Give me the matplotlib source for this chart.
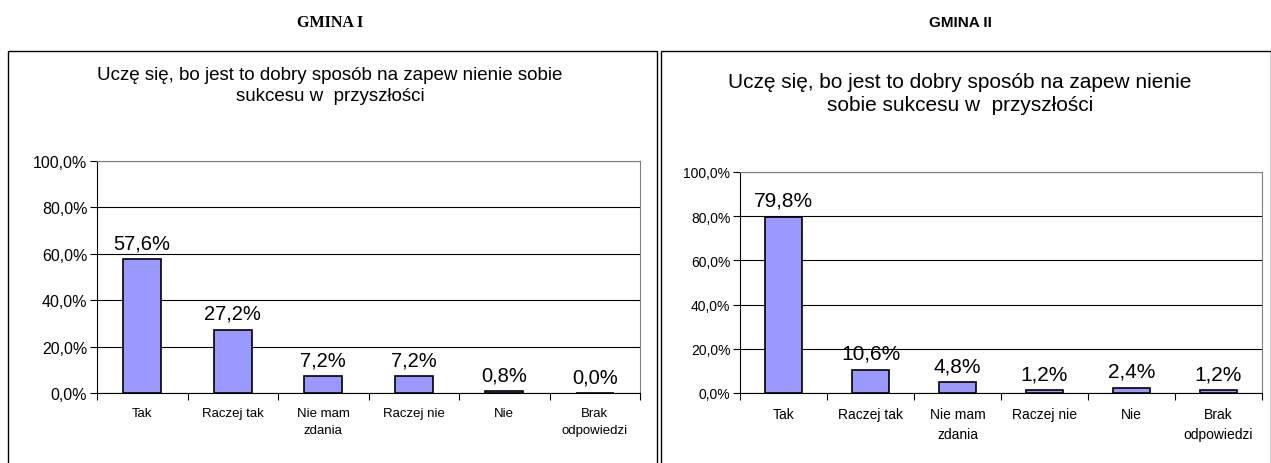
import matplotlib
matplotlib.use("Agg")
import matplotlib.pyplot as plt
from matplotlib.patches import Rectangle

categories = ["Tak", "Raczej tak", "Nie mam\nzdania", "Raczej nie", "Nie", "Brak\nodpowiedzi"]
gmina1 = [57.6, 27.2, 7.2, 7.2, 0.8, 0.0]
gmina2 = [79.8, 10.6, 4.8, 1.2, 2.4, 1.2]
yticks = [0, 20, 40, 60, 80, 100]
title = "Uczę się, bo jest to dobry sposób na zapew nienie sobie\nsukcesu w  przyszłości"
title2 = "Uczę się, bo jest to dobry sposób na zapew nienie\nsobie sukcesu w  przyszłości"

W, H = 1271, 464
plt.rcParams['font.family'] = ['Liberation Sans', 'DejaVu Sans']
fig = plt.figure(figsize=(W / 100, H / 100), dpi=100)


def px_axes(x0, y0, x1, y1):
    return fig.add_axes([x0 / W, 1 - y1 / H, (x1 - x0) / W, (y1 - y0) / H])


def box(x0, y0, x1, y1):
    fig.patches.append(Rectangle((x0 / W, 1 - y1 / H), (x1 - x0) / W, (y1 - y0) / H,
                                 transform=fig.transFigure, fill=False,
                                 edgecolor="black", linewidth=1.0))


def panel(ax, values, ysize, xsize, vsize):
    x = range(len(categories))
    ax.bar(x, values, width=0.42, color="#9999ff", edgecolor="black", linewidth=1.2, zorder=3)
    ax.set_xlim(-0.5, len(categories) - 0.5)
    ax.set_ylim(0, 100)
    ax.set_yticks(yticks)
    ax.set_yticklabels([f"{v:.1f}%".replace(".", ",") for v in yticks], fontsize=ysize)
    ax.set_xticks([i + 0.5 for i in range(-1, len(categories))])
    ax.set_xticklabels([])
    ax.set_xticks(list(x), minor=True)
    ax.set_xticklabels(categories, minor=True, fontsize=xsize, linespacing=1.6, va="top")
    ax.tick_params(axis="x", which="minor", length=0, pad=10)
    ax.tick_params(axis="x", which="major", length=5, direction="out")
    ax.tick_params(axis="y", length=5, direction="out", pad=2)
    ax.yaxis.grid(True, color="black", linewidth=0.8, zorder=0)
    for s in ["top", "right"]:
        ax.spines[s].set_color("#808080")
    for s in ["left", "bottom"]:
        ax.spines[s].set_color("black")
    for xi, v in zip(x, values):
        ax.annotate(f"{v:.1f}%".replace(".", ","), (xi, v), xytext=(0, 5),
                    textcoords="offset points", ha="center", va="bottom",
                    fontsize=vsize)


box(8, 52, 657, 470)
box(661, 52, 1271, 470)

ax1 = px_axes(97, 162, 640, 394)
panel(ax1, gmina1, 11.5, 9.5, 14.5)
ax2 = px_axes(740, 173, 1262, 394)
panel(ax2, gmina2, 10, 10, 15)

fig.text(330 / W, 1 - 86 / H, title, ha="center", va="center", fontsize=13.5,
         linespacing=1.25)
fig.text(960 / W, 1 - 94 / H, title2, ha="center", va="center", fontsize=15,
         linespacing=1.3)
fig.text(330 / W, 1 - 23 / H, "GMINA I", ha="center", va="center", fontsize=11.5,
         fontweight="bold", family=['Liberation Serif', 'DejaVu Serif'])
fig.text(960 / W, 1 - 23 / H, "GMINA II", ha="center", va="center", fontsize=11,
         fontweight="bold")

fig.savefig("out.png", dpi=100)
